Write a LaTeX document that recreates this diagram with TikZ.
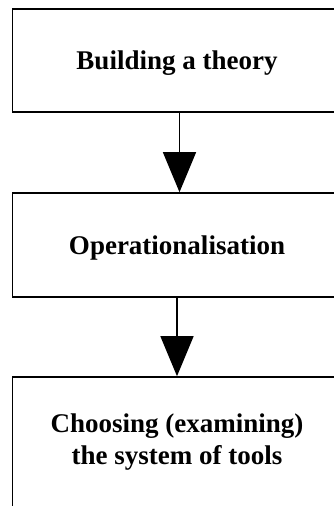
\documentclass[tikz,border=0pt]{standalone}
\usepackage{fontspec}
\setmainfont{Liberation Serif}
\usetikzlibrary{arrows.meta}
\begin{document}
\begin{tikzpicture}[x=1pt,y=-1pt,
  stage/.style={draw=black, line width=1.6pt, fill=white, minimum width=329pt,
    inner sep=0pt, align=center, font=\bfseries\fontsize{27}{32}\selectfont},
  flow/.style={line width=1.4pt, -{Triangle[width=33pt,length=40pt]}}]
  \useasboundingbox (0,0) rectangle (334,506);
  \clip (0,0) rectangle (334,506);
  \node[stage, minimum height=103pt, text depth=0pt] (theory) at (177,60.5) {Building a theory};
  \node[stage, minimum height=104pt, text depth=0pt] (oper) at (177,245) {Operationalisation};
  \node[stage, minimum height=131pt] (tools) at (177,442.5) {Choosing (examining)\\the system of tools};
  \draw[flow] ([xshift=2.5pt]theory.south) -- ([xshift=2.5pt]oper.north);
  \draw[flow] (oper.south) -- (tools.north);
\end{tikzpicture}
\end{document}
